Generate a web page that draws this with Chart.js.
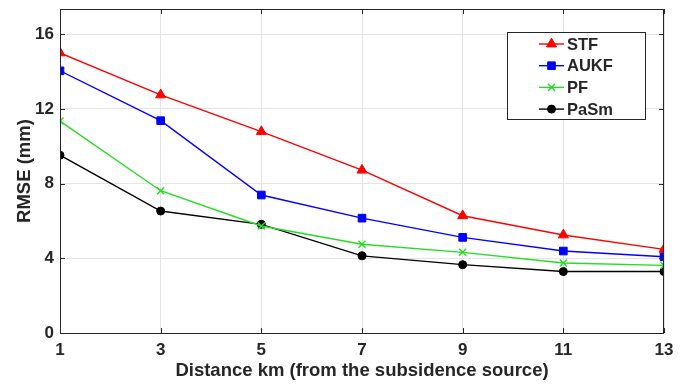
<!DOCTYPE html>
<html><head><meta charset="utf-8">
<script src="https://cdn.jsdelivr.net/npm/chart.js@4/dist/chart.umd.min.js"></script>
<style>html,body{margin:0;padding:0;background:#fff}#wrap{width:686px;height:385px}</style>
</head><body><div id="wrap"><canvas id="c" width="686" height="385"></canvas></div>
<script>
const distances = [1, 3, 5, 7, 9, 11, 13];
const stf  = [15.0, 12.75, 10.78, 8.72, 6.28, 5.25, 4.48];
const aukf = [14.04, 11.37, 7.39, 6.15, 5.12, 4.39, 4.08];
const pf   = [11.35, 7.62, 5.73, 4.75, 4.32, 3.75, 3.62];
const pasm = [9.52, 6.53, 5.82, 4.13, 3.66, 3.29, 3.29];
const xTicks = [1, 3, 5, 7, 9, 11, 13];
const yTicks = [0, 4, 8, 12, 16];
const seriesNames = ['STF', 'AUKF', 'PF', 'PaSm'];

const pts = arr => distances.map((d, i) => ({x: d, y: arr[i]}));
const TXT = '#262626';
const F = 'Liberation Sans, Arial, sans-serif';

const boxPlugin = {
  id: 'box',
  afterDatasetsDraw(chart) {
    const {ctx, chartArea: a, scales} = chart;
    ctx.save();
    ctx.strokeStyle = '#262626';
    ctx.lineWidth = 1;
    ctx.strokeRect(a.left + 0.5, a.top + 0.5, a.right - a.left - 1, a.bottom - a.top);
    const tl = 5;
    ctx.beginPath();
    yTicks.forEach(v => {
      const y = Math.round(scales.y.getPixelForValue(v)) + 0.5;
      ctx.moveTo(a.left, y); ctx.lineTo(a.left + tl, y);
      ctx.moveTo(a.right, y); ctx.lineTo(a.right - tl, y);
    });
    xTicks.forEach(v => {
      const x = Math.round(scales.x.getPixelForValue(v)) + 0.5;
      ctx.moveTo(x, a.bottom); ctx.lineTo(x, a.bottom - tl);
      ctx.moveTo(x, a.top); ctx.lineTo(x, a.top + tl);
    });
    ctx.stroke();
    ctx.restore();
  },
  afterDraw(chart) {
    const {ctx} = chart;
    const bx = 507, by = 32, bw = 138, bh = 87;
    ctx.save();
    ctx.fillStyle = '#fff';
    ctx.fillRect(bx, by, bw, bh);
    ctx.strokeStyle = '#262626';
    ctx.lineWidth = 1;
    ctx.strokeRect(bx + 0.5, by + 0.5, bw, bh);
    chart.data.datasets.forEach((ds, i) => {
      const cy = 44 + i * 21.7;
      ctx.strokeStyle = ds.borderColor;
      ctx.lineWidth = ds.borderWidth;
      ctx.beginPath(); ctx.moveTo(539, cy); ctx.lineTo(564, cy); ctx.stroke();
      ctx.fillStyle = ds.pointBackgroundColor;
      ctx.strokeStyle = ds.pointBorderColor;
      ctx.lineWidth = ds.pointBorderWidth;
      Chart.helpers.drawPoint(ctx, {
        pointStyle: ds.pointStyle, radius: ds.pointRadius, rotation: 0,
        borderWidth: ds.pointBorderWidth
      }, 551.5, cy);
      ctx.fillStyle = TXT;
      ctx.font = 'bold 16.5px ' + F;
      ctx.textBaseline = 'middle';
      ctx.textAlign = 'left';
      ctx.fillText(seriesNames[i], 567, cy + 1);
    });
    ctx.restore();
  }
};

function mk(label, data, color, style, radius, bw) {
  return {
    label, data: pts(data), borderColor: color, backgroundColor: color,
    pointBackgroundColor: color, pointBorderColor: color, pointBorderWidth: bw || 1,
    pointStyle: style, pointRadius: radius, pointHoverRadius: radius,
    borderWidth: 1.4, tension: 0, fill: false
  };
}

new Chart(document.getElementById('c'), {
  type: 'line',
  data: {
    datasets: [
      mk(seriesNames[0], stf, '#ff0000', 'triangle', 5.8),
      mk(seriesNames[1], aukf, '#0000ff', 'rect', 5.4),
      mk(seriesNames[2], pf, '#22dd22', 'crossRot', 5, 1.4),
      mk(seriesNames[3], pasm, '#000000', 'circle', 4)
    ]
  },
  options: {
    responsive: false, animation: false,
    layout: {padding: {top: 9, right: 22, left: 0, bottom: 0}},
    plugins: {legend: {display: false}, tooltip: {enabled: false}},
    scales: {
      x: {
        type: 'linear', min: 1, max: 13,
        afterBuildTicks: s => { s.ticks = xTicks.map(v => ({value: v})); },
        afterFit: s => { s.height = 52; s.paddingLeft = 0; s.paddingRight = 0; },
        grid: {color: '#e4e4e4', drawTicks: false},
        border: {display: false},
        ticks: {color: TXT, font: {family: F, size: 17, weight: 'bold'}, padding: 7, maxRotation: 0},
        title: {display: true, text: 'Distance km (from the subsidence source)', color: TXT,
                font: {family: F, size: 18.5, weight: 'bold'}, padding: {top: 0, bottom: 3}}
      },
      y: {
        type: 'linear', min: 0, max: 17.35,
        afterBuildTicks: s => { s.ticks = yTicks.map(v => ({value: v})); },
        afterFit: s => { s.width = 60; s.paddingTop = 0; s.paddingBottom = 0; },
        grid: {color: '#e4e4e4', drawTicks: false},
        border: {display: false},
        ticks: {color: TXT, font: {family: F, size: 17, weight: 'bold'}, padding: 6},
        title: {display: true, text: 'RMSE (mm)', color: TXT,
                font: {family: F, size: 18.5, weight: 'bold'}, padding: {top: 13.5, bottom: 0}}
      }
    }
  },
  plugins: [boxPlugin]
});
</script></body></html>
